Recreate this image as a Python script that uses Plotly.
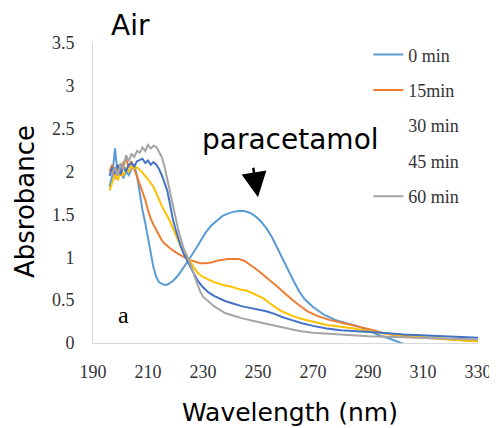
import plotly.graph_objects as go

# ---- data ----
series_names = ["0 min", "15min", "30 min", "45 min", "60 min"]
series_colors = ["#5B9BD5", "#ED7D31", "#FFC000", "#4472C4", "#A5A5A5"]

wl_0 = [196, 197, 198, 199, 200, 201, 202, 203, 204, 205, 206, 207, 208, 209, 210, 211, 212, 213, 214, 215,
        216, 217, 219, 221, 223, 225, 227, 229, 231, 233, 235, 237, 239, 241, 243, 245, 247, 249, 251, 253,
        255, 257, 259, 261, 263, 265, 267, 270, 274, 278, 282, 286, 290, 294, 298, 302, 305]
abs_0 = [1.82, 1.95, 2.27, 1.96, 2.05, 1.92, 2.00, 1.96, 2.03, 2.08, 1.95, 1.73, 1.55, 1.40, 1.22, 1.02, 0.88, 0.77, 0.71, 0.69,
         0.68, 0.68, 0.72, 0.79, 0.88, 0.98, 1.08, 1.18, 1.29, 1.37, 1.43, 1.48, 1.51, 1.53, 1.54, 1.54, 1.52, 1.48, 1.42, 1.34,
         1.24, 1.11, 0.97, 0.84, 0.72, 0.60, 0.51, 0.42, 0.33, 0.27, 0.23, 0.20, 0.15, 0.09, 0.05, 0.00, -0.03]

wl_15 = [196, 197, 198, 199, 200, 201, 202, 203, 204, 205, 206, 207, 208, 209, 210, 211, 212, 213, 214, 215,
         216, 217, 218, 219, 221, 223, 225, 227, 229, 231, 233, 235, 237, 239, 241, 243, 245, 247, 249, 251,
         253, 255, 257, 259, 261, 263, 265, 268, 272, 276, 280, 284, 288, 292, 296, 300, 305, 310, 315, 320, 325, 330]
abs_15 = [2.00, 2.08, 1.92, 2.04, 1.95, 2.10, 2.15, 2.05, 2.12, 2.02, 1.94, 1.85, 1.77, 1.67, 1.55, 1.45, 1.38, 1.32, 1.26, 1.20,
          1.16, 1.13, 1.10, 1.08, 1.04, 1.00, 0.97, 0.95, 0.93, 0.93, 0.94, 0.96, 0.97, 0.98, 0.98, 0.98, 0.96, 0.92, 0.87, 0.82,
          0.77, 0.72, 0.66, 0.60, 0.54, 0.49, 0.44, 0.37, 0.31, 0.27, 0.24, 0.21, 0.18, 0.15, 0.11, 0.09, 0.07, 0.06, 0.05, 0.04, 0.03, 0.02]

wl_30 = [196, 197, 198, 199, 200, 201, 202, 203, 204, 205, 206, 207, 208, 209, 210, 211, 212, 213, 214, 215,
         216, 217, 218, 219, 220, 221, 222, 223, 224, 225, 226, 227, 228, 230, 232, 234, 236, 238, 240, 242,
         244, 246, 248, 250, 252, 254, 256, 258, 260, 263, 266, 270, 275, 280, 285, 290, 296, 302, 309, 315, 320, 325, 330]
abs_30 = [1.78, 1.88, 1.96, 1.90, 2.00, 1.95, 2.05, 2.00, 2.06, 2.04, 2.05, 2.02, 1.99, 1.95, 1.91, 1.87, 1.82, 1.75, 1.67, 1.60,
          1.54, 1.48, 1.42, 1.34, 1.26, 1.19, 1.12, 1.06, 1.01, 0.97, 0.91, 0.86, 0.82, 0.77, 0.74, 0.71, 0.69, 0.67, 0.66, 0.64,
          0.62, 0.61, 0.58, 0.55, 0.52, 0.47, 0.42, 0.38, 0.35, 0.31, 0.28, 0.25, 0.21, 0.19, 0.17, 0.14, 0.11, 0.09, 0.07, 0.05, 0.04, 0.03, 0.02]

wl_45 = [196, 197, 198, 199, 200, 201, 202, 203, 204, 205, 206, 207, 208, 209, 210, 211, 212, 213, 214, 215,
         216, 217, 218, 219, 220, 221, 222, 223, 224, 225, 226, 227, 228, 230, 232, 234, 236, 238, 240, 242,
         244, 247, 250, 253, 256, 259, 262, 266, 270, 275, 280, 287, 295, 303, 310, 320, 330]
abs_45 = [1.95, 2.05, 1.98, 2.08, 1.97, 2.06, 2.00, 2.08, 2.10, 2.06, 2.12, 2.14, 2.15, 2.10, 2.13, 2.08, 2.11, 2.08, 2.03, 1.96,
          1.88, 1.78, 1.62, 1.45, 1.33, 1.22, 1.12, 1.04, 0.98, 0.92, 0.85, 0.79, 0.73, 0.65, 0.59, 0.55, 0.52, 0.49, 0.47, 0.45,
          0.43, 0.41, 0.39, 0.37, 0.34, 0.30, 0.27, 0.23, 0.20, 0.17, 0.15, 0.14, 0.12, 0.10, 0.09, 0.07, 0.06]

wl_60 = [197, 198, 199, 200, 201, 202, 203, 204, 205, 206, 207, 208, 209, 210, 211, 212, 213, 214, 215,
         216, 217, 218, 219, 220, 221, 222, 223, 224, 225, 226, 227, 228, 229, 230, 232, 234, 236, 238, 240,
         244, 248, 252, 256, 260, 265, 270, 280, 290, 300, 310, 320, 330]
abs_60 = [1.98, 2.05, 1.95, 2.10, 2.02, 2.19, 2.12, 2.21, 2.17, 2.24, 2.22, 2.28, 2.24, 2.31, 2.27, 2.30, 2.29, 2.22, 2.17,
          2.06, 1.92, 1.78, 1.62, 1.47, 1.32, 1.20, 1.10, 1.03, 0.96, 0.87, 0.77, 0.68, 0.60, 0.54, 0.48, 0.43, 0.39, 0.35, 0.33,
          0.29, 0.26, 0.23, 0.20, 0.17, 0.14, 0.12, 0.10, 0.08, 0.07, 0.06, 0.05, 0.04]

x_ticks = [190, 210, 230, 250, 270, 290, 310, 330]
y_ticks = [0, 0.5, 1, 1.5, 2, 2.5, 3, 3.5]
y_tick_labels = ["0", "0.5", "1", "1.5", "2", "2.5", "3", "3.5"]

series_x = [wl_0, wl_15, wl_30, wl_45, wl_60]
series_y = [abs_0, abs_15, abs_30, abs_45, abs_60]
legend_line_shown = [True, True, False, False, True]

# ---- figure ----
fig = go.Figure()
for i, (name, color, xs, ys) in enumerate(zip(series_names, series_colors, series_x, series_y)):
    if legend_line_shown[i]:
        fig.add_trace(go.Scatter(x=xs, y=ys, mode="lines", name=name,
                                 line=dict(color=color, width=2), legendgroup=f"g{i}",
                                 legendrank=i))
    else:
        fig.add_trace(go.Scatter(x=xs, y=ys, mode="lines", name=name, showlegend=False,
                                 line=dict(color=color, width=2)))
        # legend entry whose sample line is hidden, as in the reference
        fig.add_trace(go.Scatter(x=[None], y=[None], mode="lines", name=name,
                                 line=dict(color="rgba(0,0,0,0)", width=2),
                                 legendgroup=f"g{i}", legendrank=i))

serif = "Liberation Serif"
sans = "DejaVu Sans"

# the page body has an 8px default margin, so the figure is sized/offset to compensate
fig.update_layout(
    width=489, height=420,
    margin=dict(l=85, r=19, t=35, b=85, autoexpand=False),
    paper_bgcolor="white", plot_bgcolor="white",
    showlegend=True,
    legend=dict(x=0.715, y=1.022, xanchor="left", yanchor="top",
                font=dict(family=serif, size=18, color="#333333"),
                bgcolor="rgba(0,0,0,0)", traceorder="grouped", tracegroupgap=9,
                itemwidth=30),
    xaxis=dict(range=[190, 330], tickvals=x_ticks, showgrid=False, zeroline=False,
               showline=True, linecolor="#D9D9D9", linewidth=1, automargin=False,
               ticks="", ticklabelstandoff=12,
               tickfont=dict(family=serif, size=18, color="#333333")),
    yaxis=dict(range=[0, 3.5], tickvals=y_ticks, ticktext=y_tick_labels, showgrid=False,
               zeroline=False, showline=True, linecolor="#D9D9D9", linewidth=1, automargin=False,
               ticks="", ticklabelstandoff=14,
               tickfont=dict(family=serif, size=18, color="#333333")),
    annotations=[
        dict(text="Air", xref="paper", yref="paper", x=0.0987, y=1.057, xanchor="center",
             yanchor="middle", showarrow=False, font=dict(family=sans, size=28, color="black")),
        dict(text="paracetamol", xref="paper", yref="paper", x=0.514, y=0.677, xanchor="center",
             yanchor="middle", showarrow=False, font=dict(family=sans, size=28, color="black")),
        dict(text="", x=250, y=1.70, xref="x", yref="y", showarrow=True, ax=-5, ay=-31,
             arrowhead=2, arrowsize=2, arrowwidth=2.5, arrowcolor="black"),
        dict(text="a", x=201, y=0.33, xref="x", yref="y", showarrow=False,
             font=dict(family=serif, size=24, color="black")),
        dict(text="Absrobance", xref="paper", yref="paper", x=-0.1766, y=0.47, xanchor="center",
             yanchor="middle", textangle=-90, showarrow=False,
             font=dict(family=sans, size=26, color="black")),
        dict(text="Wavelength (nm)", xref="paper", yref="paper", x=0.512, y=-0.23, xanchor="center",
             yanchor="middle", showarrow=False, font=dict(family=sans, size=25, color="black")),
    ],
)

fig.write_html("out.html")
